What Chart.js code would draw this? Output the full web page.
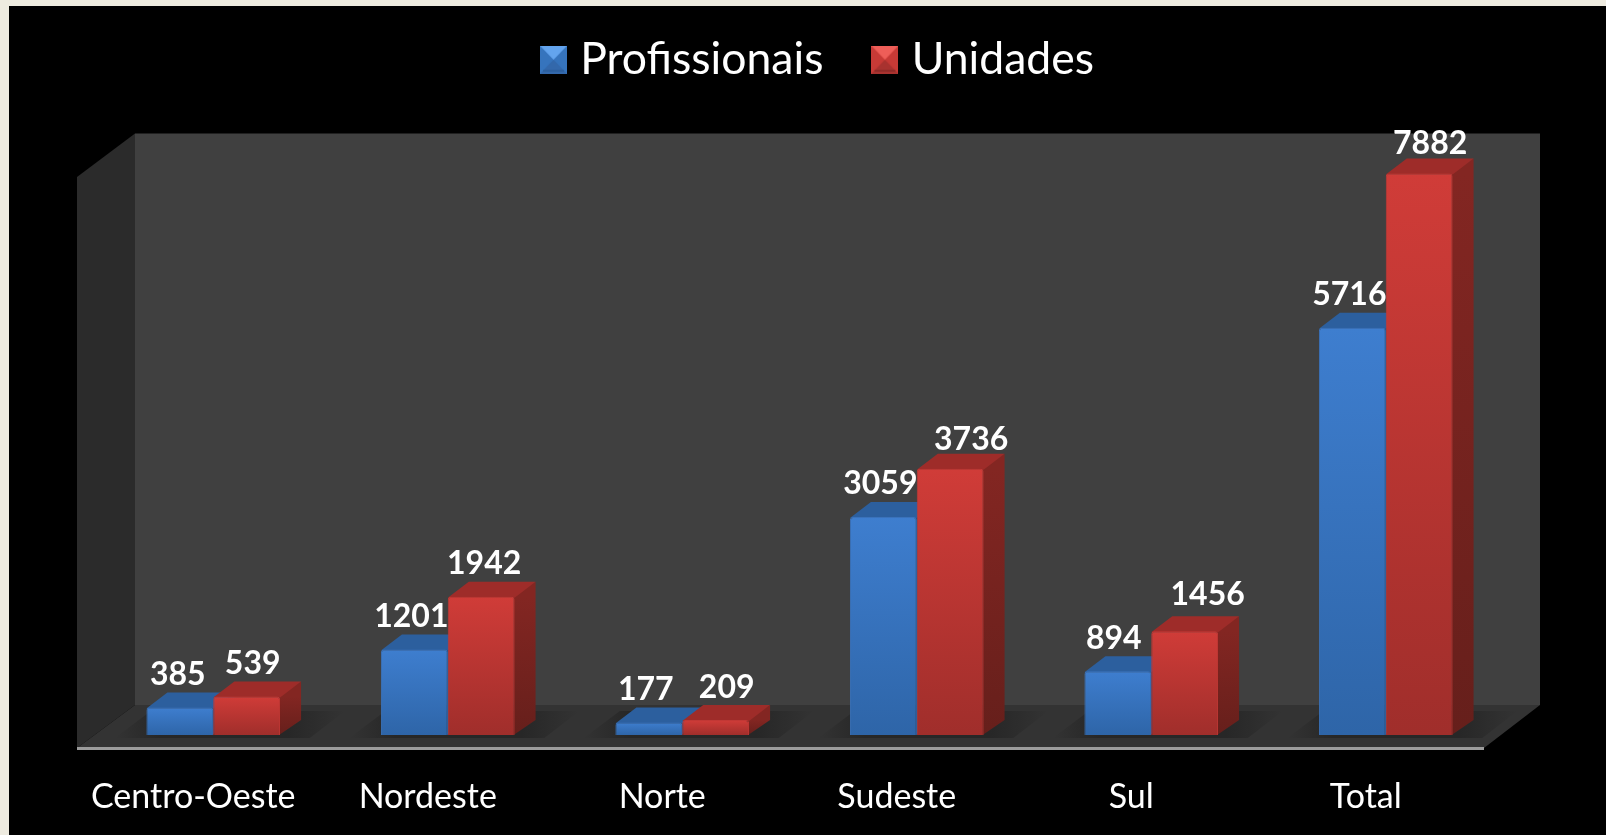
<!DOCTYPE html>
<html>
<head>
<meta charset="utf-8">
<script src="https://cdn.jsdelivr.net/npm/chart.js@4/dist/chart.umd.min.js"></script>
<style>
  html, body { margin: 0; padding: 0; background: #eeebe0; overflow: hidden; }
  #panel { position: absolute; left: 9px; top: 6px; right: 0; bottom: 0; background: #000; }
  #chart { position: absolute; left: 0; top: 0; }
</style>
</head>
<body>
<div id="panel"></div>
<canvas id="chart" width="1606" height="835"></canvas>
<script>
var categories = ['Centro-Oeste', 'Nordeste', 'Norte', 'Sudeste', 'Sul', 'Total'];
var profissionais = [385, 1201, 177, 3059, 894, 5716];
var unidades = [539, 1942, 209, 3736, 1456, 7882];

// label nudges, the 3d chart does not center them over the bars
var labelShift = [
  [-2, -3, -3, -3, -4, -3],
  [6, 3, 11, 21, 23, 11]
];
var labelRise = [
  [18, 18, 18, 18, 18, 18],
  [18, 18, 17, 14, 22, 15]
];

var blue = { top: '#3e7ecf', bottom: '#2e65a8', cap: '#2c5f9e', side: '#24507f', sideLow: '#1e4470', edge: '#3a72bb' };
var red = { top: '#d03c38', bottom: '#a02e2b', cap: '#9e2c29', side: '#832622', sideLow: '#661f1b', edge: '#c23835' };

var depthX = 21, depthY = 15;
var font = 'Lato, Carlito, sans-serif';

var legendBox = (light, mid, dark, low) => {
  var c = document.createElement('canvas');
  c.width = 27;
  c.height = 28;
  var g = c.getContext('2d');
  var tri = (color, pts) => {
    g.fillStyle = color;
    g.beginPath();
    g.moveTo(pts[0], pts[1]);
    g.lineTo(pts[2], pts[3]);
    g.lineTo(pts[4], pts[5]);
    g.closePath();
    g.fill();
  };
  g.fillStyle = mid;
  g.fillRect(0, 0, 27, 28);
  tri(light, [0, 0, 27, 0, 13.5, 14]);
  tri(low, [0, 28, 27, 28, 13.5, 14]);
  g.fillStyle = dark;
  g.fillRect(3, 24, 21, 2);
  return c;
};
var legendBoxes = [
  legendBox('#63a4ee', '#3674bd', '#2c5f9e', '#3368ab'),
  legendBox('#ee5e58', '#c73a36', '#8f2a27', '#a8322f')
];

var faceGradient = (ctx, colors) => {
  var chart = ctx.chart;
  if (!chart.chartArea || ctx.raw === undefined) return colors.top;
  var y = chart.scales.y;
  var g = chart.ctx.createLinearGradient(0, y.getPixelForValue(ctx.raw), 0, y.getPixelForValue(0));
  g.addColorStop(0, colors.top);
  g.addColorStop(1, colors.bottom);
  return g;
};

var poly = (c, color, pts) => {
  c.fillStyle = color;
  c.beginPath();
  pts.forEach((p, i) => i ? c.lineTo(p[0], p[1]) : c.moveTo(p[0], p[1]));
  c.closePath();
  c.fill();
};

// back wall, side wall and floor of the 3d box
var roomPlugin = {
  id: 'room',
  beforeDatasetsDraw: (chart) => {
    var c = chart.ctx;
    c.save();
    poly(c, '#404040', [[135, 133.5], [1540, 133.5], [1540, 705], [135, 705]]);
    poly(c, '#2b2b2b', [[77, 177], [135, 133.5], [135, 705], [77, 748]]);
    poly(c, '#333333', [[135, 705], [1540, 705], [1484, 748], [77, 748]]);
    // soft shadows on the floor under each group
    chart.getDatasetMeta(0).data.forEach((bar) => {
      var l = bar.x - 33, r = l + 132 + depthX;
      var g = c.createLinearGradient(l - 32, 0, r + 45, 0);
      g.addColorStop(0, 'rgba(39,39,39,0)');
      g.addColorStop(0.2, 'rgba(39,39,39,1)');
      g.addColorStop(0.75, 'rgba(39,39,39,1)');
      g.addColorStop(1, 'rgba(39,39,39,0)');
      poly(c, g, [[l + 4, 711], [r + 45, 711], [r + 10, 738], [l - 32, 738]]);
    });
    c.fillStyle = '#9c9c9c';
    c.fillRect(77, 747, 1407, 3);

    // top and side faces of the bars, the front faces are the chart.js bars
    [blue, red].forEach((colors, d) => {
      chart.getDatasetMeta(d).data.forEach((bar) => {
        var l = bar.x - bar.width / 2, r = bar.x + bar.width / 2;
        var g = c.createLinearGradient(0, bar.y, 0, bar.base);
        g.addColorStop(0, colors.side);
        g.addColorStop(1, colors.sideLow);
        poly(c, g, [[r - 1, bar.y], [r + depthX, bar.y - depthY], [r + depthX, bar.base - depthY], [r - 1, bar.base]]);
        poly(c, colors.cap, [[l, bar.y + 1], [l + depthX, bar.y - depthY], [r + depthX, bar.y - depthY], [r, bar.y + 1]]);
      });
    });
    c.restore();
  },
  afterDatasetsDraw: (chart) => {
    var c = chart.ctx;
    c.save();
    c.fillStyle = '#ffffff';
    c.font = 'bold 32px ' + font;
    c.textAlign = 'center';
    c.textBaseline = 'middle';
    [profissionais, unidades].forEach((values, d) => {
      chart.getDatasetMeta(d).data.forEach((bar, i) => {
        c.fillText(values[i], bar.x + labelShift[d][i], bar.y - depthY - labelRise[d][i]);
      });
    });
    c.restore();
  },
  afterLayout: (chart) => {
    // legend sits higher and further right than the default layout puts it
    var legend = chart.legend;
    legend.left += 22;
    legend.right += 22;
    legend.top -= 73;
    legend.bottom -= 73;
  }
};

var chart = new Chart(document.getElementById('chart'), {
  type: 'bar',
  data: {
    labels: categories,
    datasets: [
      {
        label: 'Profissionais',
        data: profissionais,
        backgroundColor: (ctx) => faceGradient(ctx, blue),
        borderColor: blue.edge,
        borderWidth: 1,
        borderRadius: 3
      },
      {
        label: 'Unidades',
        data: unidades,
        backgroundColor: (ctx) => faceGradient(ctx, red),
        borderColor: red.edge,
        borderWidth: 1,
        borderRadius: 3
      }
    ]
  },
  plugins: [roomPlugin],
  options: {
    responsive: false,
    animation: false,
    layout: {
      padding: { left: 96, right: 103, top: 53.5, bottom: 0 }
    },
    datasets: {
      bar: {
        categoryPercentage: 0.57,
        barPercentage: 1
      }
    },
    plugins: {
      tooltip: { enabled: false },
      legend: {
        position: 'top',
        labels: {
          color: '#ffffff',
          font: { family: font, size: 44.5 },
          usePointStyle: true,
          pointStyleWidth: 9,
          padding: 57,
          generateLabels: (chart) => {
            var items = Chart.defaults.plugins.legend.labels.generateLabels(chart);
            items.forEach((item, i) => { item.pointStyle = legendBoxes[i]; });
            return items;
          }
        }
      }
    },
    scales: {
      x: {
        afterFit: (scale) => { scale.height = 100; },
        border: { display: false },
        grid: { display: false },
        ticks: {
          color: '#ffffff',
          font: { family: font, size: 34 },
          padding: 34,
          labelOffset: -20,
          maxRotation: 0
        }
      },
      y: {
        display: false,
        min: 0,
        max: 8000
      }
    }
  }
});
</script>
</body>
</html>
